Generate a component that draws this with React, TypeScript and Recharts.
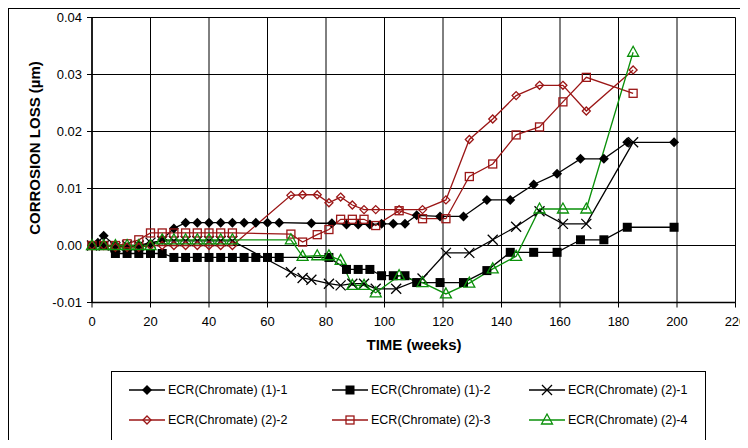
import { LineChart, Line, XAxis, YAxis, CartesianGrid } from "recharts";

// weeks / values
const weeks11 = [0, 2, 4, 8, 12, 16, 20, 24, 28, 32, 36, 40, 44, 48, 52, 56, 60, 64, 75, 82, 87, 91, 95, 99, 103, 107, 111, 119, 127, 135, 143, 151, 159, 167, 175, 183, 199];
const ecr11 = [0, 0.0005, 0.0017, 0, -0.0003, 0, 0.0003, 0.001, 0.003, 0.004, 0.004, 0.004, 0.004, 0.004, 0.004, 0.004, 0.004, 0.004, 0.0039, 0.0039, 0.0037, 0.0037, 0.0037, 0.0038, 0.0038, 0.0038, 0.0053, 0.0051, 0.0051, 0.008, 0.008, 0.0107, 0.0126, 0.0152, 0.0152, 0.0181, 0.0181];

const weeks12 = [0, 4, 8, 12, 16, 20, 24, 28, 32, 36, 40, 44, 48, 52, 56, 60, 64, 81, 87, 91, 95, 99, 103, 107, 111, 119, 127, 135, 143, 151, 159, 167, 175, 183, 199];
const ecr12 = [0, 0, -0.0014, -0.0014, -0.0014, -0.0014, -0.0014, -0.0021, -0.0021, -0.0021, -0.0021, -0.0021, -0.0021, -0.0021, -0.0021, -0.0021, -0.0021, -0.0021, -0.0042, -0.0042, -0.0042, -0.0053, -0.0053, -0.0053, -0.0065, -0.0065, -0.0065, -0.0044, -0.0012, -0.0012, -0.0012, 0.001, 0.001, 0.0032, 0.0032];

const weeks21 = [0, 4, 8, 12, 16, 20, 24, 28, 32, 36, 40, 44, 48, 68, 72, 75, 81, 85, 89, 93, 97, 104, 113, 121, 129, 137, 145, 153, 161, 169, 185];
const ecr21 = [0, 0, -0.0003, 0, 0, 0.0005, 0.0008, 0.0008, 0.0008, 0.0008, 0.0008, 0.0008, 0.0008, -0.0047, -0.0057, -0.006, -0.0067, -0.007, -0.0067, -0.0067, -0.0076, -0.0076, -0.0058, -0.0013, -0.0013, 0.001, 0.0033, 0.006, 0.0038, 0.0038, 0.0181];

const weeks22 = [0, 4, 8, 12, 16, 20, 24, 28, 32, 36, 40, 44, 48, 68, 72, 77, 81, 85, 89, 93, 97, 105, 113, 121, 129, 137, 145, 153, 161, 169, 185];
const ecr22 = [0, 0, -0.0003, -0.0003, -0.0003, 0, 0, 0, 0, 0, 0, 0, 0, 0.0088, 0.0089, 0.0089, 0.0075, 0.0085, 0.0071, 0.0063, 0.0063, 0.0063, 0.0063, 0.008, 0.0186, 0.0222, 0.0263, 0.0281, 0.0281, 0.0236, 0.0308];

const weeks23 = [0, 4, 8, 12, 16, 20, 24, 28, 32, 36, 40, 44, 48, 68, 72, 77, 81, 85, 89, 93, 97, 105, 113, 121, 129, 137, 145, 153, 161, 169, 185];
const ecr23 = [0, 0, 0, 0.0003, 0.001, 0.0022, 0.0022, 0.0022, 0.0022, 0.0022, 0.0022, 0.0022, 0.0022, 0.002, 0.0006, 0.0019, 0.0028, 0.0046, 0.0046, 0.0046, 0.0035, 0.0061, 0.0047, 0.0047, 0.0121, 0.0143, 0.0194, 0.0208, 0.0252, 0.0295, 0.0267];

const weeks24 = [0, 4, 8, 12, 16, 20, 24, 28, 32, 36, 40, 44, 48, 68, 72, 77, 81, 85, 89, 93, 97, 105, 113, 121, 129, 137, 145, 153, 161, 169, 185];
const ecr24 = [0, 0, 0, 0, 0, 0, 0.001, 0.001, 0.001, 0.001, 0.001, 0.001, 0.001, 0.001, -0.0019, -0.0018, -0.0018, -0.0026, -0.007, -0.007, -0.0083, -0.0053, -0.0065, -0.0085, -0.0066, -0.0041, -0.0019, 0.0064, 0.0064, 0.0064, 0.0339];

const xTicks = [0, 20, 40, 60, 80, 100, 120, 140, 160, 180, 200, 220];
const yTicks = [-0.01, 0, 0.01, 0.02, 0.03, 0.04];

const RED = "#9b1616";
const GREEN = "#0a900a";
const FONT = "'Liberation Sans', Arial, sans-serif";

const toRows = (w: number[], v: number[]) => w.map((week, i) => ({ week, v: v[i] }));

type MarkerKind = "diamond" | "square" | "cross" | "odiamond" | "osquare" | "otriangle";

function Marker({ kind, cx, cy, color }: { kind: MarkerKind; cx: number; cy: number; color: string }) {
  switch (kind) {
    case "diamond":
      return <path d={`M${cx},${cy - 5}L${cx + 5},${cy}L${cx},${cy + 5}L${cx - 5},${cy}Z`} fill={color} />;
    case "square":
      return <rect x={cx - 4.5} y={cy - 4.5} width={9} height={9} fill={color} />;
    case "cross":
      return <path d={`M${cx - 5},${cy - 5}L${cx + 5},${cy + 5}M${cx - 5},${cy + 5}L${cx + 5},${cy - 5}`} stroke={color} strokeWidth={1.3} fill="none" />;
    case "odiamond":
      return <path d={`M${cx},${cy - 4}L${cx + 4},${cy}L${cx},${cy + 4}L${cx - 4},${cy}Z`} fill="none" stroke={color} strokeWidth={1.3} />;
    case "osquare":
      return <rect x={cx - 4} y={cy - 4} width={8} height={8} fill="none" stroke={color} strokeWidth={1.3} />;
    case "otriangle":
      return <path d={`M${cx},${cy - 6}L${cx + 5.5},${cy + 4}L${cx - 5.5},${cy + 4}Z`} fill="none" stroke={color} strokeWidth={1.3} />;
  }
}

const series = [
  { name: "ECR(Chromate) (1)-1", data: toRows(weeks11, ecr11), color: "#000", kind: "diamond" as MarkerKind },
  { name: "ECR(Chromate) (1)-2", data: toRows(weeks12, ecr12), color: "#000", kind: "square" as MarkerKind },
  { name: "ECR(Chromate) (2)-1", data: toRows(weeks21, ecr21), color: "#000", kind: "cross" as MarkerKind },
  { name: "ECR(Chromate) (2)-2", data: toRows(weeks22, ecr22), color: RED, kind: "odiamond" as MarkerKind },
  { name: "ECR(Chromate) (2)-3", data: toRows(weeks23, ecr23), color: RED, kind: "osquare" as MarkerKind },
  { name: "ECR(Chromate) (2)-4", data: toRows(weeks24, ecr24), color: GREEN, kind: "otriangle" as MarkerKind },
];

const legendCols = [17, 220, 417];
const legendRows = [18, 48];

const XTick = (p: any) => (
  <text x={p.x} y={p.y} dy="0.71em" textAnchor="middle" fontSize={13} fontFamily={FONT} fill="#000">
    {p.payload.value}
  </text>
);

export default function App() {
  return (
    <div
      style={{
        position: "relative",
        width: 738,
        height: 432,
        border: "1px solid #000",
        borderBottom: "none",
        boxSizing: "border-box",
        fontFamily: FONT,
        background: "#fff",
      }}
    >
      <div style={{ position: "absolute", left: 0, top: 0 }}>
        <LineChart width={738} height={431} margin={{ top: 8.5, right: 11.5, left: 11, bottom: 0 }}>
          <CartesianGrid stroke="#000" strokeWidth={1} />
          <XAxis
            dataKey="week"
            type="number"
            domain={[0, 220]}
            ticks={xTicks}
            interval={0}
            allowDuplicatedCategory={false}
            height={137.5}
            tickSize={5}
            tickMargin={9}
            axisLine={{ stroke: "#000", strokeWidth: 1.5 }}
            tickLine={{ stroke: "#000" }}
            tick={XTick}
            label={{
              content: () => (
                <text x={405} y={341} textAnchor="middle" fontSize={15} fontWeight="bold" fontFamily={FONT} fill="#000">
                  TIME (weeks)
                </text>
              ),
            }}
          />
          <YAxis
            type="number"
            domain={[-0.01, 0.04]}
            ticks={yTicks}
            interval={0}
            width={72}
            tickSize={5}
            tickMargin={5}
            tickFormatter={(v: number) => v.toFixed(2)}
            axisLine={{ stroke: "#000", strokeWidth: 1.5 }}
            tickLine={{ stroke: "#000" }}
            tick={{ fill: "#000", fontSize: 13, fontFamily: FONT }}
            label={{
              content: () => (
                <text
                  x={0}
                  y={0}
                  transform="translate(31,139) rotate(-90)"
                  textAnchor="middle"
                  fontSize={15}
                  fontWeight="bold"
                  fontFamily={FONT}
                  fill="#000"
                >
                  CORROSION LOSS (µm)
                </text>
              ),
            }}
          />
          {series.map((s) => (
            <Line
              key={s.name}
              data={s.data}
              dataKey="v"
              name={s.name}
              type="linear"
              stroke={s.color}
              strokeWidth={1.3}
              isAnimationActive={false}
              dot={(p: any) => <Marker key={`${s.name}-${p.index}`} kind={s.kind} cx={p.cx} cy={p.cy} color={s.color} />}
              activeDot={false}
            />
          ))}
        </LineChart>
      </div>
      <div
        style={{
          position: "absolute",
          left: 102,
          top: 362,
          width: 595,
          height: 70,
          border: "1px solid #000",
          boxSizing: "border-box",
        }}
      >
        {series.map((s, i) => (
          <div
            key={s.name}
            style={{
              position: "absolute",
              left: legendCols[i % 3],
              top: legendRows[Math.floor(i / 3)] - 8,
              height: 16,
              display: "flex",
              alignItems: "center",
              fontSize: 12.5,
              whiteSpace: "nowrap",
            }}
          >
            <svg width={36} height={16} style={{ marginRight: 3 }}>
              <line x1={0} y1={8} x2={36} y2={8} stroke={s.color} strokeWidth={1.3} />
              <Marker kind={s.kind} cx={18} cy={8} color={s.color} />
            </svg>
            <span>{s.name}</span>
          </div>
        ))}
      </div>
    </div>
  );
}
